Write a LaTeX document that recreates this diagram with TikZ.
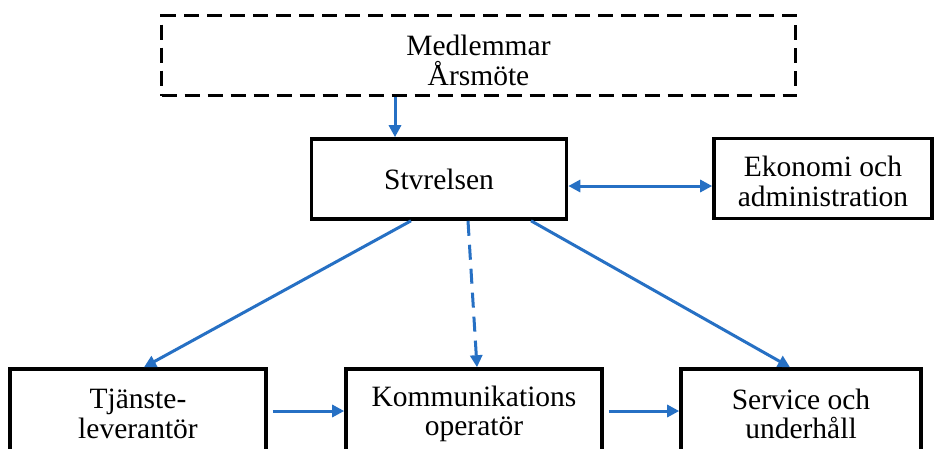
\documentclass[tikz,border=0pt]{standalone}
\usepackage{fontspec}
\setmainfont{Liberation Serif}
\usepackage{tikz}
\usetikzlibrary{calc, shapes, arrows.meta}
\usepackage{xcolor}
\definecolor{flowblue}{RGB}{38,112,196}

\begin{document}
\begin{tikzpicture}[x=1pt,y=-1pt]
			\tikzset{box/.style={draw, line width=3.6pt, rectangle, align=center, inner sep=0pt,
					font=\fontsize{29.5}{29.5}\selectfont}}
			\tikzset{flow/.style={draw=flowblue, line width=3pt,
					-{Triangle[length=12pt,width=12pt]}}}
			\clip (0,0) rectangle (940,448); %page is cut at the bottom row
			\fill[white] (0,0) rectangle (940,448);
			\node[box, dash pattern=on 15pt off 8pt, line width=3.8pt,
				minimum width=634pt, minimum height=80pt] (medl) at (478.5,55.5) {\rule{0pt}{30.5pt}Medlemmar\\Årsmöte};
			\node[box, minimum width=255pt, minimum height=80pt] (stv) at (439,179) {Stvrelsen};
			\node[box, minimum width=218pt, minimum height=80pt] (eko) at (823,178.5) {\rule{0pt}{26.5pt}Ekonomi och\\administration};
			\node[box, minimum width=256pt, minimum height=90pt] (tj) at (138,414) {Tjänste-\\leverantör};
			\node[box, minimum width=256pt, minimum height=90pt] (kom) at (474,414) {Kommunikations\\operatör};
			\node[box, minimum width=240pt, minimum height=90pt] (serv) at (801,414) {Service och\\underhåll};
			\draw[flow] ([xshift=-44pt]stv.north |- medl.south) -- ([xshift=-44pt]stv.north);
			\draw[flow, {Triangle[length=12pt,width=12pt]}-{Triangle[length=12pt,width=12pt]}]
				([yshift=-7pt]stv.east) -- ([yshift=-7pt]stv.east -| eko.west);
			\draw[flow] ([xshift=-28pt]stv.south) -- ([xshift=6pt]tj.north);
			\draw[flow, dash pattern=on 15pt off 9pt] ([xshift=29pt]stv.south) -- ([xshift=3pt]kom.north);
			\draw[flow] ([xshift=92pt]stv.south) -- ([xshift=-11pt]serv.north);
			\draw[flow, shorten <=5pt] ([yshift=3pt]tj.east) -- ([yshift=3pt]kom.west);
			\draw[flow, shorten <=5pt] ([yshift=3pt]kom.east) -- ([yshift=3pt]serv.west);
			\end{tikzpicture}
\end{document}
